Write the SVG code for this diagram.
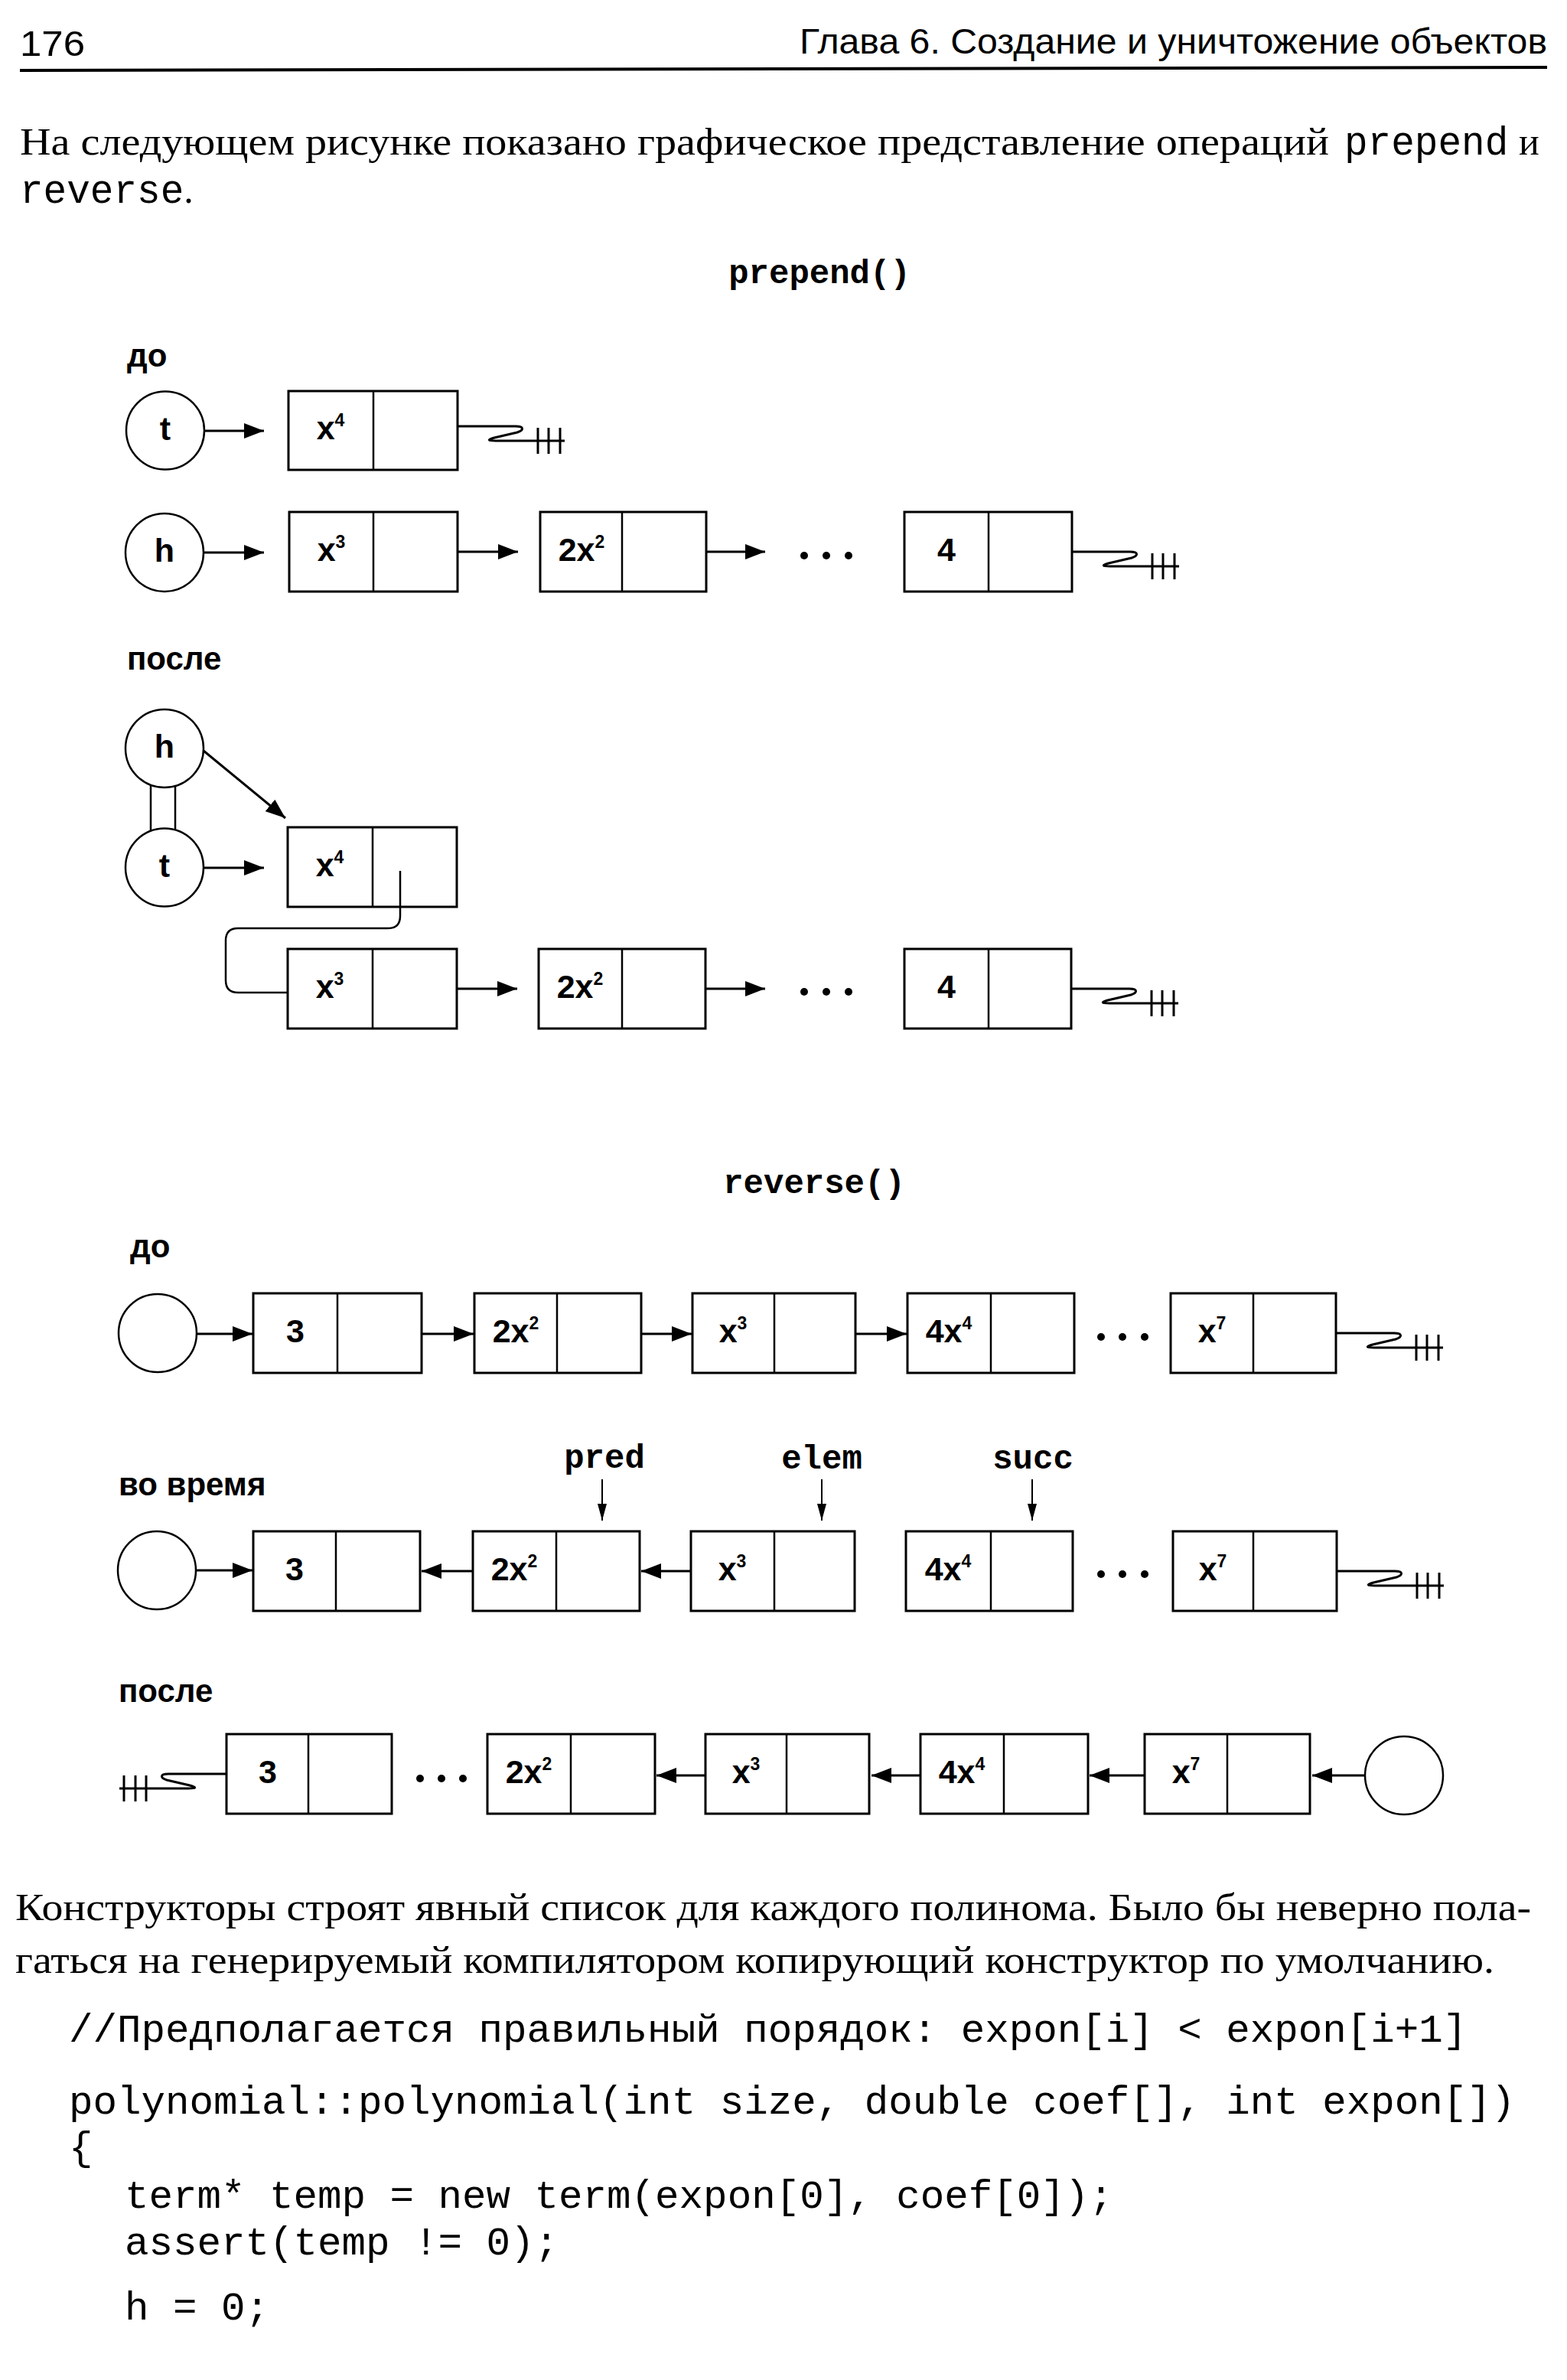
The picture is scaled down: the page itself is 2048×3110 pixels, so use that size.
<svg xmlns="http://www.w3.org/2000/svg" xmlns:xlink="http://www.w3.org/1999/xlink" width="2048" height="3110" viewBox="0 0 2048 3110">
<style>
.bg{fill:#fff}
.node rect{fill:#fff;stroke:#000;stroke-width:3}
.node line{stroke:#000;stroke-width:2.5}
.node circle{fill:#fff;stroke:#000;stroke-width:2.5}
.lbl{font-family:"Liberation Sans",Arial,sans-serif;font-weight:bold;font-size:43px;text-anchor:middle;fill:#000}
.sup{font-size:23px}
.sec{font-family:"Liberation Sans",Arial,sans-serif;font-weight:bold;font-size:42px;fill:#000}
.monob{font-family:"Liberation Mono","Courier New",monospace;font-weight:bold;font-size:44px;fill:#000;text-anchor:middle}
.hdr{font-family:"Liberation Sans",Arial,sans-serif;font-size:47px;fill:#000}
.serif{font-family:"Liberation Serif","Times New Roman",serif;font-size:50px;fill:#000}
.mono{font-family:"Liberation Mono","Courier New",monospace;font-size:52.5px;fill:#000}
.monop{font-family:"Liberation Mono","Courier New",monospace;font-size:51px}
.arr{stroke:#000;stroke-width:3;fill:none;marker-end:url(#ah)}
.thin{stroke:#000;stroke-width:2;fill:none;marker-end:url(#ah2)}
.wire{stroke:#000;stroke-width:2.5;fill:none}
.dot{fill:#000}
</style>
<defs>
<marker id="ah" markerUnits="userSpaceOnUse" markerWidth="26" markerHeight="20" refX="26" refY="10" orient="auto">
<path d="M0,0 L26,10 L0,20 Z" fill="#000"/>
</marker>
<marker id="ah2" markerUnits="userSpaceOnUse" markerWidth="22" markerHeight="12" refX="22" refY="6" orient="auto">
<path d="M0,0 L22,6 L0,12 Z" fill="#000"/>
</marker>
<g id="term">
<path d="M0,0 H76 C87,0 87,5 78,8 L48,15 C38,18 40,19 50,19 H140" fill="none" stroke="#000" stroke-width="3"/>
<path d="M105,2 V36 M119,2 V36 M134,2 V36" fill="none" stroke="#000" stroke-width="3"/>
</g>
</defs>
<rect class="bg" x="0" y="0" width="2048" height="3110"/>

<!-- page header and text -->
<g id="page-text">
<text class="hdr" x="26" y="73" textLength="85" lengthAdjust="spacingAndGlyphs">176</text>
<text class="hdr" x="1045" y="70" textLength="977" lengthAdjust="spacingAndGlyphs">Глава 6. Создание и уничтожение объектов</text>
<line x1="26" y1="92" x2="2022" y2="88" stroke="#000" stroke-width="4"/>
<text class="serif" x="26" y="202" textLength="1711" lengthAdjust="spacingAndGlyphs">На следующем рисунке показано графическое представление операций</text>
<text class="serif" x="1757" y="202"><tspan class="monop">prepend</tspan><tspan x="1985">и</tspan></text>
<text class="serif" x="26" y="265"><tspan class="monop">reverse</tspan>.</text>
<text class="monob" x="1071" y="370">prepend()</text>
<text class="monob" x="1064" y="1559">reverse()</text>
<text class="serif" x="20" y="2509" textLength="1981" lengthAdjust="spacingAndGlyphs">Конструкторы строят явный список для каждого полинома. Было бы неверно пола-</text>
<text class="serif" x="20" y="2578" textLength="1933" lengthAdjust="spacingAndGlyphs">гаться на генерируемый компилятором копирующий конструктор по умолчанию.</text>
<text class="mono" x="90" y="2668">//Предполагается правильный порядок: expon[i] &lt; expon[i+1]</text>
<text class="mono" x="90" y="2762">polynomial::polynomial(int size, double coef[], int expon[])</text>
<text class="mono" x="90" y="2822">{</text>
<text class="mono" x="163" y="2885">term* temp = new term(expon[0], coef[0]);</text>
<text class="mono" x="163" y="2946">assert(temp != 0);</text>
<text class="mono" x="163" y="3031">h = 0;</text>
</g>

<!-- section labels -->
<g id="labels">
<text class="sec" x="166" y="479">до</text>
<text class="sec" x="166" y="875">после</text>
<text class="sec" x="170" y="1643">до</text>
<text class="sec" x="155" y="1954">во время</text>
<text class="sec" x="155" y="2224">после</text>
<text class="monob" x="790" y="1918">pred</text>
<text class="monob" x="1074" y="1919">elem</text>
<text class="monob" x="1350" y="1919">succ</text>
</g>

<!-- connectors -->
<g id="connectors">
<!-- prepend before -->
<path class="arr" d="M267,563 H345"/>
<path class="arr" d="M266,722 H345"/>
<path class="arr" d="M598,721 H677"/>
<path class="arr" d="M923,721 H1000"/>
<use xlink:href="#term" href="#term" transform="translate(598,557)"/>
<use xlink:href="#term" href="#term" transform="translate(1401,721)"/>
<!-- prepend after -->
<path class="wire" d="M197,1018 V1092 M229,1018 V1092"/>
<path class="arr" d="M266,981 L373,1069"/>
<path class="arr" d="M266,1134 H345"/>
<path class="wire" d="M523,1138 V1197 Q523,1213 507,1213 H311 Q295,1213 295,1229 V1281 Q295,1297 311,1297 H376"/>
<path class="arr" d="M597,1292 H676"/>
<path class="arr" d="M922,1292 H1000"/>
<use xlink:href="#term" href="#term" transform="translate(1400,1292)"/>
<!-- reverse before -->
<path class="arr" d="M256,1743 H330"/>
<path class="arr" d="M551,1743 H619"/>
<path class="arr" d="M838,1743 H904"/>
<path class="arr" d="M1118,1743 H1185"/>
<use xlink:href="#term" href="#term" transform="translate(1746,1742)"/>
<!-- reverse during -->
<path class="arr" d="M254,2052 H330"/>
<path class="arr" d="M618,2053 H551"/>
<path class="arr" d="M903,2053 H838"/>
<path class="thin" d="M787,1933 V1987"/>
<path class="thin" d="M1074,1933 V1987"/>
<path class="thin" d="M1349,1933 V1987"/>
<use xlink:href="#term" href="#term" transform="translate(1747,2053)"/>
<!-- reverse after -->
<use xlink:href="#term" href="#term" transform="translate(296,2318) scale(-1,1)"/>
<path class="arr" d="M922,2320 H858"/>
<path class="arr" d="M1203,2320 H1139"/>
<path class="arr" d="M1496,2320 H1424"/>
<path class="arr" d="M1786,2320 H1715"/>
</g>

<!-- ellipsis dots -->
<g id="dots">
<circle class="dot" cx="1051" cy="726" r="5"/><circle class="dot" cx="1080" cy="726" r="5"/><circle class="dot" cx="1109" cy="726" r="5"/>
<circle class="dot" cx="1051" cy="1296" r="5"/><circle class="dot" cx="1080" cy="1296" r="5"/><circle class="dot" cx="1109" cy="1296" r="5"/>
<circle class="dot" cx="1439" cy="1747" r="5"/><circle class="dot" cx="1467" cy="1747" r="5"/><circle class="dot" cx="1496" cy="1747" r="5"/>
<circle class="dot" cx="1439" cy="2057" r="5"/><circle class="dot" cx="1467" cy="2057" r="5"/><circle class="dot" cx="1496" cy="2057" r="5"/>
<circle class="dot" cx="549" cy="2324" r="5"/><circle class="dot" cx="577" cy="2324" r="5"/><circle class="dot" cx="605" cy="2324" r="5"/>
</g>

<!-- prepend: before -->
<g id="p-before-t" class="node"><circle cx="216" cy="562.5" r="51"/><text class="lbl" x="216" y="575">t</text></g>
<g id="p-before-h" class="node"><circle cx="215" cy="722" r="51"/><text class="lbl" x="215" y="734">h</text></g>
<g id="p-before-x4" class="node"><rect x="377" y="511" width="221" height="103"/><line x1="488" y1="511" x2="488" y2="614"/><text class="lbl" x="432" y="574">x<tspan class="sup" dy="-17">4</tspan></text></g>
<g id="p-before-x3" class="node"><rect x="378" y="669" width="220" height="104"/><line x1="488" y1="669" x2="488" y2="773"/><text class="lbl" x="433" y="733">x<tspan class="sup" dy="-17">3</tspan></text></g>
<g id="p-before-2x2" class="node"><rect x="706" y="669" width="217" height="104"/><line x1="813" y1="669" x2="813" y2="773"/><text class="lbl" x="760" y="733">2x<tspan class="sup" dy="-17">2</tspan></text></g>
<g id="p-before-4" class="node"><rect x="1182" y="669" width="219" height="104"/><line x1="1292" y1="669" x2="1292" y2="773"/><text class="lbl" x="1237" y="733">4</text></g>

<!-- prepend: after -->
<g id="p-after-h" class="node"><circle cx="215" cy="978" r="51"/><text class="lbl" x="215" y="990">h</text></g>
<g id="p-after-t" class="node"><circle cx="215" cy="1133.5" r="51"/><text class="lbl" x="215" y="1146">t</text></g>
<g id="p-after-x4" class="node"><rect x="376" y="1081" width="221" height="104"/><line x1="487" y1="1081" x2="487" y2="1185"/><text class="lbl" x="431" y="1145">x<tspan class="sup" dy="-17">4</tspan></text><path class="wire" d="M523,1138 V1185"/></g>
<g id="p-after-x3" class="node"><rect x="376" y="1240" width="221" height="104"/><line x1="487" y1="1240" x2="487" y2="1344"/><text class="lbl" x="431" y="1304">x<tspan class="sup" dy="-17">3</tspan></text></g>
<g id="p-after-2x2" class="node"><rect x="704" y="1240" width="218" height="104"/><line x1="813" y1="1240" x2="813" y2="1344"/><text class="lbl" x="758" y="1304">2x<tspan class="sup" dy="-17">2</tspan></text></g>
<g id="p-after-4" class="node"><rect x="1182" y="1240" width="218" height="104"/><line x1="1292" y1="1240" x2="1292" y2="1344"/><text class="lbl" x="1237" y="1304">4</text></g>

<!-- reverse: before -->
<g id="r-before-head" class="node"><circle cx="206" cy="1742" r="51"/></g>
<g id="r-before-3" class="node"><rect x="331" y="1690" width="220" height="104"/><line x1="441" y1="1690" x2="441" y2="1794"/><text class="lbl" x="386" y="1754">3</text></g>
<g id="r-before-2x2" class="node"><rect x="620" y="1690" width="218" height="104"/><line x1="728" y1="1690" x2="728" y2="1794"/><text class="lbl" x="674" y="1754">2x<tspan class="sup" dy="-17">2</tspan></text></g>
<g id="r-before-x3" class="node"><rect x="905" y="1690" width="213" height="104"/><line x1="1012" y1="1690" x2="1012" y2="1794"/><text class="lbl" x="958" y="1754">x<tspan class="sup" dy="-17">3</tspan></text></g>
<g id="r-before-4x4" class="node"><rect x="1186" y="1690" width="218" height="104"/><line x1="1295" y1="1690" x2="1295" y2="1794"/><text class="lbl" x="1240" y="1754">4x<tspan class="sup" dy="-17">4</tspan></text></g>
<g id="r-before-x7" class="node"><rect x="1530" y="1690" width="216" height="104"/><line x1="1638" y1="1690" x2="1638" y2="1794"/><text class="lbl" x="1584" y="1754">x<tspan class="sup" dy="-17">7</tspan></text></g>

<!-- reverse: during -->
<g id="r-during-head" class="node"><circle cx="205" cy="2052" r="51"/></g>
<g id="r-during-3" class="node"><rect x="331" y="2001" width="218" height="104"/><line x1="439" y1="2001" x2="439" y2="2105"/><text class="lbl" x="385" y="2065">3</text></g>
<g id="r-during-2x2" class="node"><rect x="618" y="2001" width="218" height="104"/><line x1="727" y1="2001" x2="727" y2="2105"/><text class="lbl" x="672" y="2065">2x<tspan class="sup" dy="-17">2</tspan></text></g>
<g id="r-during-x3" class="node"><rect x="903" y="2001" width="214" height="104"/><line x1="1012" y1="2001" x2="1012" y2="2105"/><text class="lbl" x="957" y="2065">x<tspan class="sup" dy="-17">3</tspan></text></g>
<g id="r-during-4x4" class="node"><rect x="1184" y="2001" width="218" height="104"/><line x1="1295" y1="2001" x2="1295" y2="2105"/><text class="lbl" x="1239" y="2065">4x<tspan class="sup" dy="-17">4</tspan></text></g>
<g id="r-during-x7" class="node"><rect x="1533" y="2001" width="214" height="104"/><line x1="1638" y1="2001" x2="1638" y2="2105"/><text class="lbl" x="1585" y="2065">x<tspan class="sup" dy="-17">7</tspan></text></g>

<!-- reverse: after -->
<g id="r-after-3" class="node"><rect x="296" y="2266" width="216" height="104"/><line x1="403" y1="2266" x2="403" y2="2370"/><text class="lbl" x="350" y="2330">3</text></g>
<g id="r-after-2x2" class="node"><rect x="637" y="2266" width="219" height="104"/><line x1="746" y1="2266" x2="746" y2="2370"/><text class="lbl" x="691" y="2330">2x<tspan class="sup" dy="-17">2</tspan></text></g>
<g id="r-after-x3" class="node"><rect x="922" y="2266" width="214" height="104"/><line x1="1028" y1="2266" x2="1028" y2="2370"/><text class="lbl" x="975" y="2330">x<tspan class="sup" dy="-17">3</tspan></text></g>
<g id="r-after-4x4" class="node"><rect x="1203" y="2266" width="219" height="104"/><line x1="1312" y1="2266" x2="1312" y2="2370"/><text class="lbl" x="1257" y="2330">4x<tspan class="sup" dy="-17">4</tspan></text></g>
<g id="r-after-x7" class="node"><rect x="1496" y="2266" width="216" height="104"/><line x1="1604" y1="2266" x2="1604" y2="2370"/><text class="lbl" x="1550" y="2330">x<tspan class="sup" dy="-17">7</tspan></text></g>
<g id="r-after-head" class="node"><circle cx="1835" cy="2320" r="51"/></g>
</svg>
